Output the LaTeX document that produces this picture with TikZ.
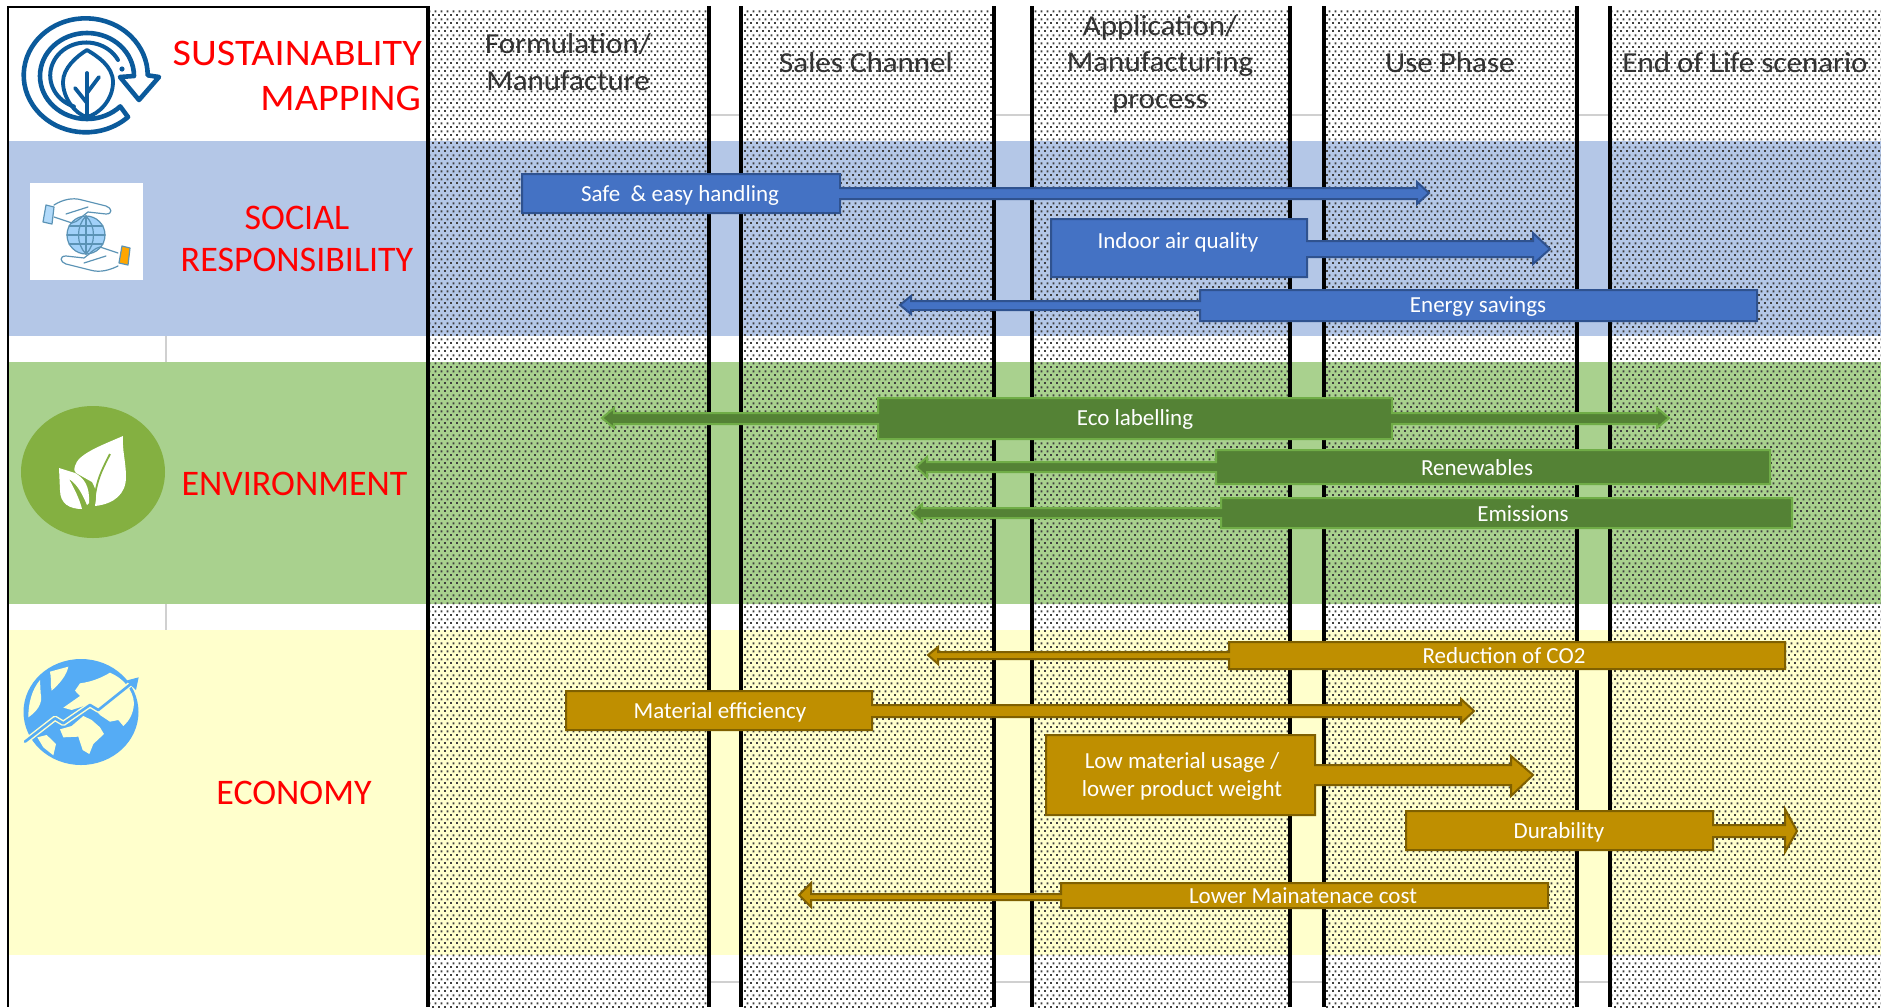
\documentclass[tikz,border=0pt]{standalone}
\usepackage{fontspec}
\setmainfont{Carlito}
\usetikzlibrary{patterns}
\definecolor{bandblue}{HTML}{B4C7E7}
\definecolor{bandgreen}{HTML}{A9D18E}
\definecolor{bandyellow}{HTML}{FFFFCC}
\definecolor{fblue}{HTML}{4472C4}
\definecolor{lblue}{HTML}{2F528F}
\definecolor{fgreen}{HTML}{548235}
\definecolor{lgreen}{HTML}{70AD47}
\definecolor{fgold}{HTML}{BF8F00}
\definecolor{lgold}{HTML}{7F6000}
\definecolor{iconblue}{HTML}{0B5A9B}
\definecolor{leafcircle}{HTML}{84B041}
\definecolor{globeblue}{HTML}{55ACF5}
\definecolor{handline}{HTML}{5B93B5}
\definecolor{gridgray}{HTML}{D0D0D0}
\pgfdeclarepatternformonly{stip}{\pgfqpoint{0pt}{0pt}}{\pgfqpoint{6pt}{8pt}}{\pgfqpoint{6pt}{8pt}}{%
  \pgfpathrectangle{\pgfqpoint{0pt}{0pt}}{\pgfqpoint{2.2pt}{2.2pt}}%
  \pgfpathrectangle{\pgfqpoint{3pt}{4pt}}{\pgfqpoint{2.2pt}{2.2pt}}%
  \pgfusepath{fill}}
\tikzset{
  band/.style={fill=#1,draw=none},
  stipple/.style={pattern=stip,pattern color=black!75,draw=none},
  heavy/.style={draw=black,line width=4pt},
  gridl/.style={draw=gridgray,line width=1.2pt},
  bluecall/.style={fill=fblue,draw=lblue,line width=2pt},
  greencall/.style={fill=fgreen,draw=lgreen,line width=2pt},
  goldcall/.style={fill=fgold,draw=lgold,line width=2pt},
  bartext/.style={text=white,font=\fontsize{23}{28}\selectfont,align=center,inner sep=0pt},
  headtext/.style={text=black!80,font=\fontsize{29}{36.5}\selectfont,align=center,inner sep=0pt,xscale=1.07},
  redtext/.style={text=red,font=\fontsize{36}{42}\selectfont,inner sep=0pt},
  redwide/.style={text=red,font=\fontsize{37.5}{42}\selectfont,inner sep=0pt,xscale=1.07,anchor=east},
}
\begin{document}
\begin{tikzpicture}[x=1pt,y=-1pt]
\useasboundingbox (0,0) rectangle (1881,1007);
\fill[white] (0,0) rectangle (1881,1007);
% bands
\path[band=bandblue] (8,141) rectangle (1881,336);
\path[band=bandgreen] (8,362) rectangle (1881,604);
\path[band=bandyellow] (8,630) rectangle (1881,955);
% grid remains
\foreach \ya/\yb in {336/362,604/630}{\draw[gridl] (166,\ya) -- (166,\yb);}
\foreach \xa/\xb in {711/739,996/1030,1292/1322,1579/1609}{
  \draw[gridl] (\xa,115) -- (\xb,115);
  \draw[gridl] (\xa,982) -- (\xb,982);}
% stippled columns
\foreach \xa/\xb in {430/707,743/992,1034/1288,1326/1575,1612/1881}{
  \path[stipple] (\xa,8) rectangle (\xb,1007);}
% black rules
\draw[draw=black,line width=2pt] (8,6) -- (8,1007);
\draw[draw=black,line width=2pt] (8,7) -- (428,7);
\foreach \x in {428,709,741,994,1032,1290,1324,1577,1610}{
  \draw[heavy] (\x,6) -- (\x,1007);}
% headers
\node[headtext] (h1) at (568,62) {Formulation/\\Manufacture};
\node[headtext] (h2) at (866,63) {Sales Channel};
\node[headtext] (h3) at (1160,64) {Application/\\Manufacturing\\process};
\node[headtext] (h4) at (1450,63) {Use Phase};
\node[headtext] (h5) at (1745,63) {End of Life scenario};
% red titles
\node[redwide] (t1) at (422,53) {SUSTAINABLITY};
\node[redwide] (t2) at (421,98) {MAPPING};
\node[redtext] (t3) at (297,218) {SOCIAL};
\node[redtext] (t4) at (297,260) {RESPONSIBILITY};
\node[redtext] (t5) at (294.5,484) {ENVIRONMENT};
\node[redtext] (t6) at (294,793) {ECONOMY};
% blue callouts
\draw[bluecall] (522,174)--(840,174)--(840,188)--(1417,188)--(1417,182)--(1429,193)--(1417,204)--(1417,199)--(840,199)--(840,213)--(522,213)--cycle;
\node[bartext] (safe) at (680,195) {Safe\ \ \& easy handling};
\draw[bluecall] (1051,219)--(1307,219)--(1307,241)--(1533,241)--(1533,233)--(1550,249)--(1533,264)--(1533,257)--(1307,257)--(1307,277)--(1051,277)--cycle;
\node[bartext] (indoor) at (1178,242) {Indoor air quality};
\draw[bluecall] (1757,290)--(1757,321)--(1200,321)--(1200,310)--(911,310)--(911,314)--(900,305)--(911,296)--(911,301)--(1200,301)--(1200,290)--cycle;
\node[bartext] (energy) at (1478,307) {Energy savings};
% green callouts
\draw[greencall] (878,398)--(1392,398)--(1392,413)--(1657,413)--(1657,408)--(1669,418)--(1657,428)--(1657,424)--(1392,424)--(1392,439)--(878,439)--(878,424)--(614,424)--(614,428)--(602,418)--(614,408)--(614,413)--(878,413)--cycle;
\node[bartext] (eco) at (1135,419) {Eco labelling};
\draw[greencall] (1216,450)--(1770,450)--(1770,484)--(1216,484)--(1216,472)--(927,472)--(927,477)--(916,467)--(927,457)--(927,462)--(1216,462)--cycle;
\node[bartext] (renew) at (1477,468) {Renewables};
\draw[greencall] (1221,498)--(1792,498)--(1792,528)--(1221,528)--(1221,518)--(922,518)--(922,522)--(912,513)--(922,504)--(922,508)--(1221,508)--cycle;
\node[bartext] (emis) at (1523,514) {Emissions};
% gold callouts
\draw[goldcall] (1229,642)--(1785,642)--(1785,669)--(1229,669)--(1229,659)--(938,659)--(938,664)--(928,655)--(938,647)--(938,652)--(1229,652)--cycle;
\node[bartext] (co2) at (1504,656) {Reduction of CO2};
\draw[goldcall] (566,691)--(872,691)--(872,705)--(1461,705)--(1461,699)--(1474,711)--(1461,723)--(1461,717)--(872,717)--(872,730)--(566,730)--cycle;
\node[bartext] (mat) at (720,712) {Material efficiency};
\draw[goldcall] (1046,735)--(1315,735)--(1315,765)--(1511,765)--(1511,756)--(1533,775)--(1511,796)--(1511,785)--(1315,785)--(1315,815)--(1046,815)--cycle;
\node[bartext] (low) at (1182,776) {Low material usage /\\lower product weight};
\draw[goldcall] (1406,811)--(1713,811)--(1713,825)--(1785,825)--(1785,809)--(1797,831)--(1785,852)--(1785,837)--(1713,837)--(1713,850)--(1406,850)--cycle;
\node[bartext] (dur) at (1559,832) {Durability};
\draw[goldcall] (1061,883)--(1548,883)--(1548,908)--(1061,908)--(1061,900)--(811,900)--(811,907)--(799,895)--(811,883)--(811,894)--(1061,894)--cycle;
\node[bartext] (maint) at (1303,896) {Lower Mainatenace cost};
% sustainability icon
\begin{scope}[shift={(87,76)},x=1pt,y=1pt,line width=4.6pt,draw=iconblue,line join=round,line cap=round]
  \draw (41,-41) arc [start angle=-47,end angle=-360,x radius=62,y radius=57] -- (72,-1) -- (52,-24) -- (33,-1) -- (47,0) arc [start angle=0,end angle=315,x radius=47,y radius=43] -- cycle;
  \draw[line width=4pt] (31,16) arc [start angle=28,end angle=250,x radius=36,y radius=33];
  \fill[iconblue] (35,7) circle (2.6);
  \draw[line width=3.8pt] (0,26) .. controls (10,20) and (26,10) .. (26,-6) .. controls (26,-24) and (12,-38) .. (0,-41) .. controls (-12,-38) and (-24,-22) .. (-24,-6) .. controls (-24,8) and (-10,20) .. (0,26) -- cycle;
  \draw[line width=3.8pt] (0,3) -- (0,-41);
  \draw[line width=3.8pt] (-12,-12) -- (0,-27);
  \draw[line width=3.8pt] (12,-1) -- (0,-17);
\end{scope}
% hands and globe icon
\fill[white] (30,183) rectangle (143,280);
\begin{scope}[draw=handline,line width=1.2pt,line join=round,line cap=round]
  \fill[globeblue!55!white] (86,235) circle (19);
  \draw (86,235) circle (19);
  \draw (67,235) -- (105,235) (86,216) -- (86,254) (69,226) -- (103,226) (69,244) -- (103,244);
  \draw (86,216) .. controls (76,226) and (76,244) .. (86,254) .. controls (96,244) and (96,226) .. (86,216);
  \draw (54,205) .. controls (62,200) and (72,197) .. (82,200) -- (106,206) .. controls (112,208) and (113,214) .. (106,214) -- (88,212) .. controls (82,216) and (78,222) .. (72,223) -- (54,217);
  \draw (66,214) -- (88,207);
  \draw[fill=globeblue!45!white] (46,205) -- (54,207) -- (52,224) -- (43,222) -- cycle;
  \draw (118,266) .. controls (110,270) and (100,273) .. (90,270) -- (66,264) .. controls (60,262) and (59,256) .. (66,256) -- (84,258) .. controls (90,254) and (94,248) .. (100,247) -- (118,253);
  \draw (106,256) -- (84,263);
  \draw[fill=orange!70!yellow] (122,246) -- (130,248) -- (128,265) -- (119,263) -- cycle;
\end{scope}
% environment icon
\fill[leafcircle] (93,472) ellipse [x radius=72,y radius=66];
\fill[white] (123,436) .. controls (100,446) and (78,454) .. (75,466) .. controls (74,470) and (74,471) .. (76,473) -- (92,482) .. controls (98,492) and (96,498) .. (95,506) .. controls (114,504) and (126,494) .. (126,477) .. controls (126,462) and (122,450) .. (123,436) -- cycle;
\fill[white] (59,468) -- (75,473) .. controls (84,478) and (90,486) .. (89,503) -- (87,505) .. controls (84,498) and (78,484) .. (69,479) .. controls (74,488) and (80,500) .. (82,509) .. controls (70,509) and (60,504) .. (60,490) -- cycle;
\draw[leafcircle,line width=1.8pt] (110,454) .. controls (102,470) and (96,480) .. (94,504);
% economy icon
\fill[globeblue] (81,712) ellipse [x radius=57.5,y radius=53];
\begin{scope}[shift={(0,640)},x=0.3333pt,y=-0.3333pt]
  \fill[bandyellow] (120,120) .. controls (95,150) and (85,190) .. (85,232) .. controls (110,215) and (130,190) .. (122,160) -- cycle;
  \fill[bandyellow] (150,95) -- (205,80) .. controls (200,105) and (180,130) .. (155,152) .. controls (150,130) and (155,115) .. (150,95) -- cycle;
  \fill[bandyellow] (240,130) .. controls (280,125) and (310,110) .. (330,98) .. controls (370,115) and (400,150) .. (402,190) .. controls (400,220) and (390,240) .. (370,258) -- (355,240) -- (330,245) -- (300,225) -- (270,192) -- (215,210) -- (190,203) -- (240,168) -- (225,152) -- cycle;
  \fill[bandyellow] (180,268) -- (215,258) -- (250,228) -- (275,240) -- (300,262) -- (312,282) -- (280,312) -- (268,342) -- (248,330) -- (235,290) -- (190,292) -- cycle;
  \fill[bandyellow] (112,292) -- (140,285) -- (168,312) -- (160,346) -- (130,322) -- cycle;
  \draw[bandyellow,line width=5.5pt,line join=round,line cap=round] (75,305) -- (165,235) -- (190,250) -- (270,195) -- (295,210) -- (400,125);
  \draw[globeblue,line width=2.6pt,line join=round,line cap=round] (75,305) -- (165,235) -- (190,250) -- (270,195) -- (295,210) -- (405,122);
  \fill[globeblue] (416,112) -- (378,122) -- (408,150) -- cycle;
\end{scope}
\end{tikzpicture}
\end{document}
